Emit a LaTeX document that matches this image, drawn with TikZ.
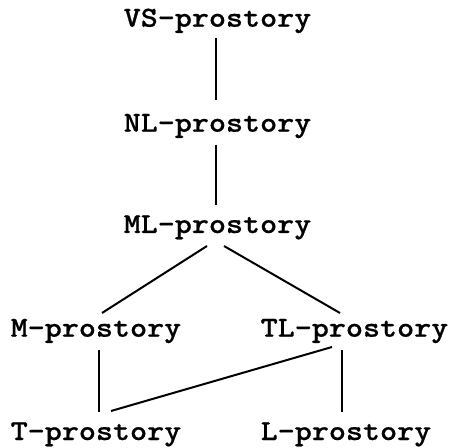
\documentclass[tikz,border=0pt]{standalone}
\usepackage{fontspec}
\newfontfamily\courb{lmmonolt10-bold}[Extension=.otf, FakeStretch=1.12, FakeBold=0.6]
\begin{document}
\begin{tikzpicture}[x=1pt,y=1pt,
  lbl/.style={anchor=base west, inner sep=0pt, font=\courb\fontsize{29}{32}\selectfont},
  edge/.style={line width=2pt, line cap=butt}]
\useasboundingbox (0,0) rectangle (452,447);
\node[lbl] (vs) at (123.5,420.3) {VS-prostory};
\node[lbl] (nl) at (123.5,315.3) {NL-prostory};
\node[lbl] (ml) at (123.5,214) {ML-prostory};
\node[lbl] (m)  at (10.5,110.3) {M-prostory};
\node[lbl] (tl) at (260.5,110.3) {TL-prostory};
\node[lbl] (t)  at (10.5,7) {T-prostory};
\node[lbl] (l)  at (260.5,7) {L-prostory};
\draw[edge] ([shift={(92.5pt,-11.3pt)}]vs.base west) -- ([shift={(92.5pt,31.7pt)}]nl.base west);
\draw[edge] ([shift={(92.5pt,-13.3pt)}]nl.base west) -- ([shift={(92.5pt,28pt)}]ml.base west);
\draw[edge] ([shift={(83.5pt,-13pt)}]ml.base west) -- ([shift={(91.5pt,23.7pt)}]m.base west);
\draw[edge] ([shift={(100.5pt,-13pt)}]ml.base west) -- ([shift={(79.5pt,23.7pt)}]tl.base west);
\draw[edge] ([shift={(88.5pt,-13.3pt)}]m.base west) -- ([shift={(88.5pt,28pt)}]t.base west);
\draw[edge] ([shift={(81.5pt,-13.3pt)}]tl.base west) -- ([shift={(81.5pt,28pt)}]l.base west);
\draw[edge] ([shift={(71.5pt,-10.3pt)}]tl.base west) -- ([shift={(100.5pt,29pt)}]t.base west);
\end{tikzpicture}
\end{document}
